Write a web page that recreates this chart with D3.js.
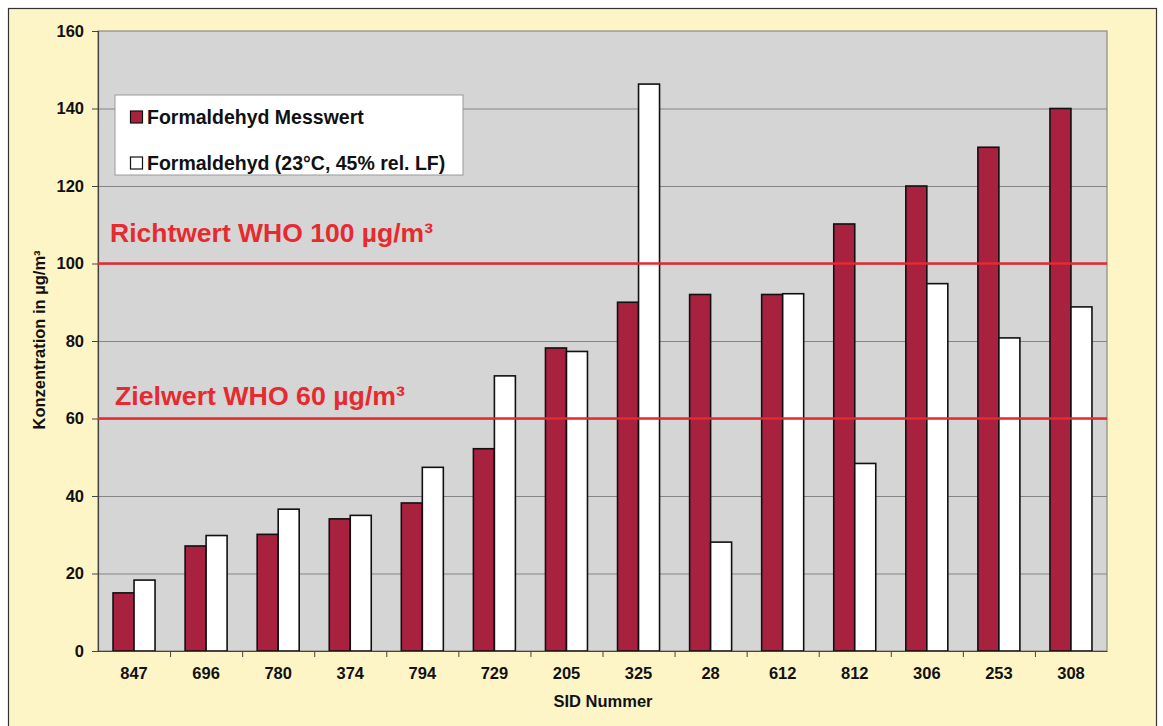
<!DOCTYPE html>
<html><head><meta charset="utf-8">
<script src="https://cdn.jsdelivr.net/npm/d3@7"></script>
<style>
html,body{margin:0;padding:0;background:#fff;}
svg{display:block;font-family:Arial,"Liberation Sans",Helvetica,sans-serif;}
</style></head>
<body>
<svg id="chart" width="1163" height="726"></svg>
<script>
const categories = ["847","696","780","374","794","729","205","325","28","612","812","306","253","308"];
const messwert   = [15, 27.1, 30.1, 34.1, 38.2, 52.2, 78.2, 90, 92, 92, 110.2, 120, 130, 140];
const normiert   = [18.3, 29.8, 36.6, 35, 47.4, 71, 77.3, 146.3, 28.1, 92.2, 48.4, 94.8, 80.8, 88.8];
const seriesNames = ["Formaldehyd Messwert", "Formaldehyd (23\u00B0C, 45% rel. LF)"];
const yTicks = [0,20,40,60,80,100,120,140,160];
const refLines = [
  {value:100, label:"Richtwert WHO 100 \u00B5g/m\u00B3"},
  {value:60,  label:"Zielwert WHO 60 \u00B5g/m\u00B3"}
];

const svg = d3.select("#chart");
const plot = {left:98, top:31, right:1107, bottom:651};
const FONT = "Arial, 'Liberation Sans', sans-serif";

// outer frame
svg.append("rect").attr("x",8.5).attr("y",8.5).attr("width",1148).attr("height",740)
  .attr("fill","#fdf5c6").attr("stroke","#333").attr("stroke-width",1.2);

const x = d3.scaleBand().domain(categories).range([plot.left, plot.right]);
const y = d3.scaleLinear().domain([0,160]).range([plot.bottom, plot.top]);
const bw = 21;

// plot area
svg.append("rect").attr("x",plot.left).attr("y",plot.top)
  .attr("width",plot.right-plot.left).attr("height",plot.bottom-plot.top)
  .attr("fill","#d5d5d5");

// gridlines
svg.append("g").selectAll("line").data(yTicks.filter(d=>d>0&&d<160)).join("line")
  .attr("x1",plot.left).attr("x2",plot.right)
  .attr("y1",d=>y(d)+0.5).attr("y2",d=>y(d)+0.5)
  .attr("stroke","#858585").attr("stroke-width",1.2);

// plot border
svg.append("rect").attr("x",plot.left).attr("y",plot.top)
  .attr("width",plot.right-plot.left).attr("height",plot.bottom-plot.top)
  .attr("fill","none").attr("stroke","#8a8a80").attr("stroke-width",1.2);

// bars
const cx = d => x(d) + x.bandwidth()/2;
const g = svg.append("g");
g.selectAll("rect.m").data(categories).join("rect").attr("class","m")
  .attr("x",(d)=>cx(d)-bw).attr("width",bw)
  .attr("y",(d,i)=>y(messwert[i])).attr("height",(d,i)=>y(0)-y(messwert[i]))
  .attr("fill","#a8213f").attr("stroke","#111").attr("stroke-width",1.6);
g.selectAll("rect.n").data(categories).join("rect").attr("class","n")
  .attr("x",(d)=>cx(d)).attr("width",bw)
  .attr("y",(d,i)=>y(normiert[i])).attr("height",(d,i)=>y(0)-y(normiert[i]))
  .attr("fill","#ffffff").attr("stroke","#111").attr("stroke-width",1.6);

// axes
const yAxis = d3.axisLeft(y).tickValues(yTicks).tickSize(6).tickPadding(8);
const ya = svg.append("g").attr("transform",`translate(${plot.left},0)`).call(yAxis);
ya.select(".domain").attr("stroke","#444").attr("stroke-width",1.2);
ya.selectAll(".tick line").attr("stroke","#444");
ya.selectAll("text").attr("font-size",16.5).attr("font-weight","bold").attr("fill","#111")
  .attr("font-family",FONT);

const xa = svg.append("g").attr("transform",`translate(0,${plot.bottom})`)
  .call(d3.axisBottom(x).tickSize(0).tickPadding(16));
xa.select(".domain").attr("stroke","#444").attr("stroke-width",1.2);
xa.selectAll("text").attr("font-size",16.5).attr("font-weight","bold").attr("fill","#111")
  .attr("font-family",FONT);
// group separator ticks
svg.append("g").selectAll("line").data(categories.slice(1)).join("line")
  .attr("x1",d=>x(d)+0.5).attr("x2",d=>x(d)+0.5)
  .attr("y1",plot.bottom).attr("y2",plot.bottom+6)
  .attr("stroke","#444").attr("stroke-width",1);

// reference lines
const refX = [110, 115];
const refOff = [22, 14];
refLines.forEach((r,i)=>{
  svg.append("line").attr("x1",plot.left).attr("x2",plot.right)
    .attr("y1",y(r.value)).attr("y2",y(r.value))
    .attr("stroke","#e52a30").attr("stroke-width",2.5);
  svg.append("text").attr("x", refX[i]).attr("y", y(r.value)-refOff[i])
    .attr("font-size",25).attr("font-weight","bold").attr("fill","#e52a30")
    .attr("textLength", i===0?323:290).attr("lengthAdjust","spacingAndGlyphs")
    .text(r.label);
});

// axis titles
svg.append("text").attr("transform",`translate(45,340) rotate(-90)`)
  .attr("text-anchor","middle").attr("font-size",16.5).attr("font-weight","bold").attr("fill","#111")
  .text("Konzentration in \u00B5g/m\u00B3");
svg.append("text").attr("x",603).attr("y",707).attr("text-anchor","middle")
  .attr("font-size",16.5).attr("font-weight","bold").attr("fill","#111")
  .text("SID Nummer");

// legend
const lg = svg.append("g");
lg.append("rect").attr("x",115).attr("y",95).attr("width",348).attr("height",80)
  .attr("fill","#fff").attr("stroke","#999").attr("stroke-width",1);
const lgFill = ["#a8213f","#ffffff"];
seriesNames.forEach((s,i)=>{
  const yy = 117 + i*46;
  lg.append("rect").attr("x",130.5).attr("y",yy-6).attr("width",12).attr("height",12)
    .attr("fill",lgFill[i]).attr("stroke","#111").attr("stroke-width",1.2);
  lg.append("text").attr("x",147).attr("y",yy+7).attr("font-size",19.5).attr("font-weight","bold")
    .attr("fill","#111").text(s);
});
</script>
</body></html>
